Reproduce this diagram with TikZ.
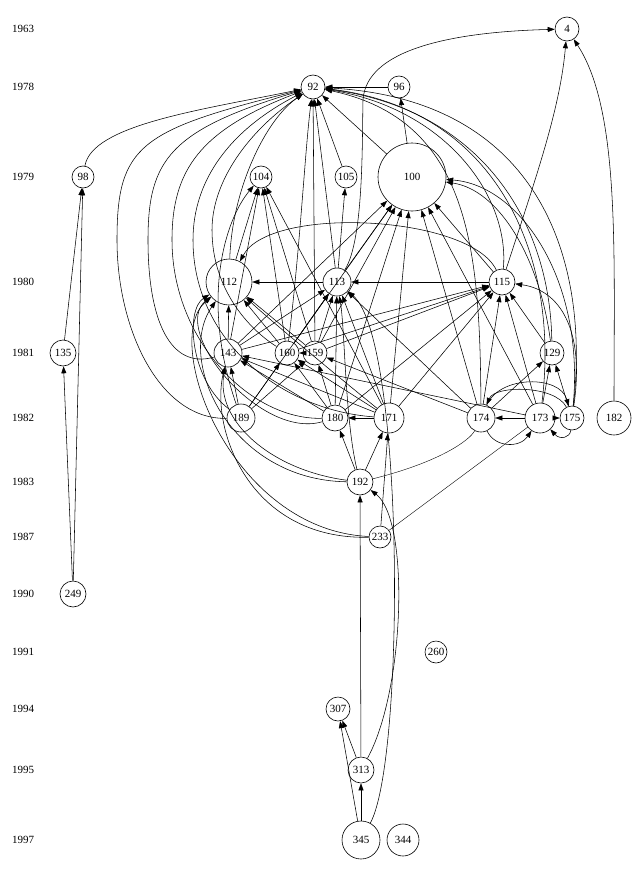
\documentclass[tikz,border=0pt]{standalone}
\usepackage{fontspec}
\setmainfont{Liberation Serif}
\usetikzlibrary{arrows.meta}
\begin{document}
\begin{tikzpicture}[x=1pt,y=-1pt,
  nd/.style={circle,draw,line width=0.6pt,inner sep=0pt,font=\fontsize{11}{12}\selectfont},
  yr/.style={anchor=west,font=\fontsize{11}{12}\selectfont,inner sep=0pt},
  e/.style={line width=0.55pt,-{Triangle[length=7pt,width=5pt]}}]
\useasboundingbox (0,0) rectangle (639,878);
% years
\node[yr] (y1963) at (12,29) {1963};
\node[yr] (y1978) at (12,87) {1978};
\node[yr] (y1979) at (12,177) {1979};
\node[yr] (y1980) at (12,282) {1980};
\node[yr] (y1981) at (12,353) {1981};
\node[yr] (y1982) at (12,418) {1982};
\node[yr] (y1983) at (12,482) {1983};
\node[yr] (y1987) at (12,537) {1987};
\node[yr] (y1990) at (12,594) {1990};
\node[yr] (y1991) at (12,652) {1991};
\node[yr] (y1994) at (12,709) {1994};
\node[yr] (y1995) at (12,770) {1995};
\node[yr] (y1997) at (12,840) {1997};
% nodes
\node[nd,minimum size=24pt] (n4) at (567,29) {4};
\node[nd,minimum size=24pt] (n92) at (313,87) {92};
\node[nd,minimum size=22pt] (n96) at (399,87) {96};
\node[nd,minimum size=22pt] (n98) at (83,177) {98};
\node[nd,minimum size=22pt] (n104) at (261,177) {104};
\node[nd,minimum size=22pt] (n105) at (346,177) {105};
\node[nd,minimum size=68pt] (n100) at (412,177) {100};
\node[nd,minimum size=46pt] (n112) at (229,282) {112};
\node[nd,minimum size=28pt] (n113) at (337,282) {113};
\node[nd,minimum size=26pt] (n115) at (502,282) {115};
\node[nd,minimum size=26pt] (n135) at (63,353) {135};
\node[nd,minimum size=28pt] (n143) at (228,353) {143};
\node[nd,minimum size=24pt] (n160) at (287,353) {160};
\node[nd,minimum size=24pt] (n159) at (315,353) {159};
\node[nd,minimum size=24pt] (n129) at (552,353) {129};
\node[nd,minimum size=28pt] (n189) at (241,418) {189};
\node[nd,minimum size=26pt] (n180) at (335,418) {180};
\node[nd,minimum size=30pt] (n171) at (389,418) {171};
\node[nd,minimum size=28pt] (n174) at (481,418) {174};
\node[nd,minimum size=30pt] (n173) at (540,418) {173};
\node[nd,minimum size=24pt] (n175) at (572,418) {175};
\node[nd,minimum size=34pt] (n182) at (614,418) {182};
\node[nd,minimum size=26pt] (n192) at (360,482) {192};
\node[nd,minimum size=22pt] (n233) at (380,537) {233};
\node[nd,minimum size=26pt] (n249) at (73,594) {249};
\node[nd,minimum size=22pt] (n260) at (436,652) {260};
\node[nd,minimum size=24pt] (n307) at (338,709) {307};
\node[nd,minimum size=26pt] (n313) at (361,770) {313};
\node[nd,minimum size=38pt] (n345) at (361,840) {345};
\node[nd,minimum size=32pt] (n344) at (403,840) {344};
% edges to 4
\draw[e] (n113) .. controls (364,240) and (362,140) .. (363,100) .. controls (366,50) and (450,32) .. (n4);
\draw[e] (n115) .. controls (535,180) and (560,110) .. (n4);
\draw[e] (n182) .. controls (614,250) and (620,110) .. (n4);
% edges to 92 and friends
\draw[e] (n96) -- (n92);
\draw[e] (n100) -- (n96);
\draw[e] (n100) -- (n92);
\draw[e] (n105) -- (n92);
\draw[e] (n98) .. controls (92,125) and (200,110) .. (n92);
\draw[e] (n113) -- (n92);
\draw[e] (n159) -- (n92);
\draw[e] (n160) .. controls (300,250) and (305,150) .. (n92);
\draw[e] (n113) -- (n105);
\draw[e] (n249) -- (n135);
\draw[e] (n249) -- (n98);
\draw[e] (n135) -- (n98);
% left curves to 92
\draw[e] (n189) .. controls (160,420) and (117,330) .. (117,240) .. controls (117,145) and (140,130) .. (n92);
\draw[e] (n143) .. controls (170,370) and (148,320) .. (148,240) .. controls (148,160) and (170,130) .. (n92);
\draw[e] (n180) .. controls (250,420) and (172,340) .. (172,240) .. controls (172,170) and (200,130) .. (n92);
\draw[e] (n171) .. controls (280,410) and (193,340) .. (193,240) .. controls (193,180) and (230,130) .. (n92);
\draw[e] (n160) .. controls (250,330) and (212,290) .. (212,230) .. controls (212,180) and (250,130) .. (n92);
\draw[e] (n112) .. controls (232,190) and (265,120) .. (n92);
% right curves to 92
\draw[e] (n115) .. controls (510,200) and (450,110) .. (n92);
\draw[e] (n129) .. controls (550,220) and (480,110) .. (n92);
\draw[e] (n173) .. controls (560,260) and (500,110) .. (n92);
\draw[e] (n175) .. controls (590,260) and (540,100) .. (n92);
\draw[e] (n174) .. controls (480,250) and (470,120) .. (n92);
% to 104
\draw[e] (n143) -- (n104);
\draw[e] (n112) -- (n104);
\draw[e] (n160) -- (n104);
\draw[e] (n159) -- (n104);
\draw[e] (n171) -- (n104);
\draw[e] (n189) .. controls (200,300) and (225,220) .. (n104);
% to 100
\draw[e] (n143) -- (n100);
\draw[e] (n113) -- (n100);
\draw[e] (n159) -- (n100);
\draw[e] (n160) -- (n100);
\draw[e] (n171) -- (n100);
\draw[e] (n180) -- (n100);
\draw[e] (n174) -- (n100);
\draw[e] (n173) -- (n100);
\draw[e] (n115) -- (n100);
\draw[e] (n129) .. controls (540,260) and (500,190) .. (n100);
\draw[e] (n175) .. controls (585,280) and (520,185) .. (n100);
% to 112
\draw[e] (n113) -- (n112);
\draw[e] (n143) -- (n112);
\draw[e] (n160) -- (n112);
\draw[e] (n159) -- (n112);
\draw[e] (n115) .. controls (470,215) and (270,205) .. (n112);
\draw[e] (n189) .. controls (190,380) and (185,310) .. (n112);
\draw[e] (n180) .. controls (260,440) and (170,330) .. (n112);
\draw[e] (n171) .. controls (330,370) and (270,320) .. (n112);
\draw[e] (n192) .. controls (230,480) and (175,360) .. (n112);
\draw[e] (n233) .. controls (230,530) and (160,340) .. (n112);
% to 113
\draw[e] (n115) -- (n113);
\draw[e] (n143) -- (n113);
\draw[e] (n160) -- (n113);
\draw[e] (n159) -- (n113);
\draw[e] (n180) -- (n113);
\draw[e] (n189) -- (n113);
\draw[e] (n171) -- (n113);
\draw[e] (n174) -- (n113);
\draw[e] (n192) .. controls (345,420) and (345,330) .. (n113);
\draw[e] (n345) .. controls (405,760) and (405,340) .. (n113);
% to 115
\draw[e] (n143) -- (n115);
\draw[e] (n160) -- (n115);
\draw[e] (n159) -- (n115);
\draw[e] (n174) -- (n115);
\draw[e] (n173) -- (n115);
\draw[e] (n129) -- (n115);
\draw[e] (n171) -- (n115);
\draw[e] (n180) -- (n115);
\draw[e] (n175) .. controls (585,330) and (560,290) .. (n115);
% to 143
\draw[e] (n189) -- (n143);
\draw[e] (n173) -- (n143);
\draw[e] (n171) -- (n143);
\draw[e] (n180) -- (n143);
\draw[e] (n233) .. controls (250,540) and (210,430) .. (n143);
\draw[e] (n192) .. controls (270,470) and (215,420) .. (n143);
% to 160 / 159
\draw[e] (n159) -- (n160);
\draw[e] (n189) -- (n160);
\draw[e] (n180) -- (n160);
\draw[e] (n171) -- (n160);
\draw[e] (n180) -- (n159);
\draw[e] (n174) -- (n159);
\draw[e] (n189) -- (n159);
% right cluster
\draw[e] (n174) -- (n129);
\draw[e] (n173) -- (n129);
\draw[e] (n175) -- (n129);
\draw[e] (n173) -- (n175);
\draw[e] (n173) -- (n174);
\draw[e] (n174) .. controls (500,375) and (560,375) .. (n175);
\draw[e] (n175) .. controls (555,385) and (495,385) .. (n174);
\draw[e] (n174) .. controls (495,448) and (520,448) .. (n173);
\draw[e] (n175) .. controls (570,438) and (560,440) .. (n173);
% lower
\draw[e] (n171) -- (n180);
\draw[e] (n192) -- (n180);
\draw[e] (n192) -- (n171);
\draw[e] (n233) -- (n171);
\draw (n192) .. controls (440,462) and (470,440) .. (n174);
\draw (n233) -- (n173);
\draw[e] (n313) -- (n192);
\draw[e] (n313) .. controls (405,690) and (410,520) .. (n192);
\draw[e] (n345) -- (n313);
\draw[e] (n345) -- (n307);
\draw[e] (n313) -- (n307);
\end{tikzpicture}
\end{document}
